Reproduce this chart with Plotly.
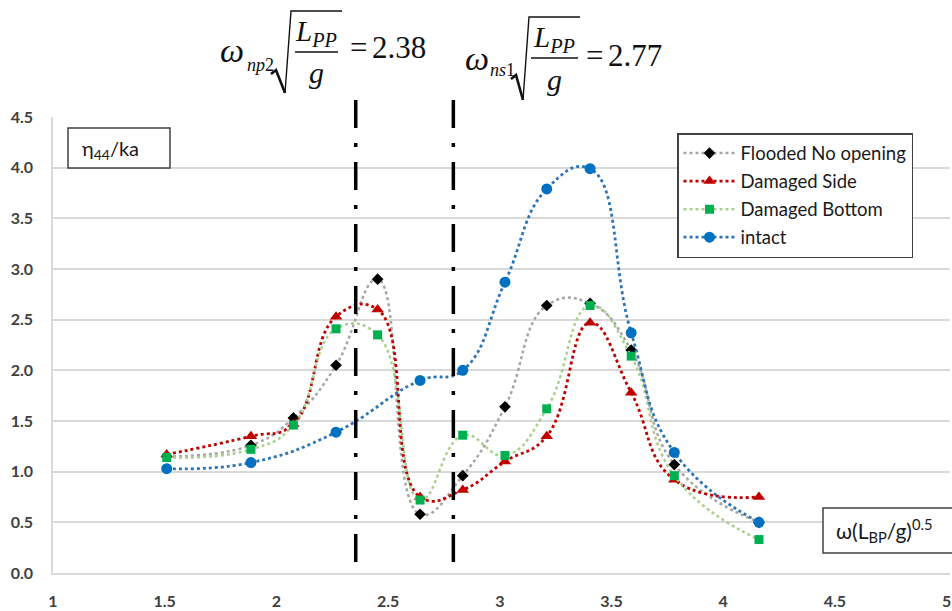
import plotly.graph_objects as go

# ---------------- data ----------------
x_common = [1.509, 1.886, 2.076, 2.267, 2.453, 2.643, 2.834, 3.023, 3.210, 3.404, 3.588, 3.781, 4.160]
flooded = [1.15, 1.26, 1.53, 2.05, 2.90, 0.58, 0.96, 1.64, 2.64, 2.66, 2.20, 1.07, 0.50]
damaged_side = [1.17, 1.35, 1.47, 2.53, 2.60, 0.75, 0.82, 1.10, 1.35, 2.47, 1.78, 0.92, 0.75]
damaged_bottom = [1.14, 1.22, 1.46, 2.41, 2.35, 0.72, 1.36, 1.16, 1.62, 2.64, 2.14, 0.96, 0.33]
x_intact = [1.509, 1.886, 2.267, 2.643, 2.834, 3.023, 3.210, 3.404, 3.588, 3.781, 4.160]
intact = [1.03, 1.09, 1.39, 1.90, 2.00, 2.87, 3.79, 3.99, 2.37, 1.19, 0.50]
series_names = ["Flooded No opening", "Damaged Side", "Damaged Bottom", "intact"]
vlines_x = [2.355, 2.792]
eq_values = ["2.38", "2.77"]
x_ticks = [1, 1.5, 2, 2.5, 3, 3.5, 4, 4.5, 5]
y_ticks = [0, 0.5, 1, 1.5, 2, 2.5, 3, 3.5, 4, 4.5]

# ---------------- layout geometry (pixels) ----------------
W_FIG, H_FIG = 952, 611
L, T, W, H = 53, 117, 897, 456


def px(x):
    return (x - L) / W


def py(y):
    return (T + H - y) / H


fig = go.Figure()

SM = 1.3
styles = [
    dict(line=dict(color="#a6a6a6", width=2.5, dash="dot", shape="spline", smoothing=SM),
         marker=dict(symbol="diamond", size=9, color="#000000")),
    dict(line=dict(color="#c00000", width=2.8, dash="dot", shape="spline", smoothing=SM),
         marker=dict(symbol="triangle-up", size=11, color="#c00000")),
    dict(line=dict(color="#a9d18e", width=2.5, dash="dot", shape="spline", smoothing=SM),
         marker=dict(symbol="square", size=9, color="#00b050")),
    dict(line=dict(color="#2e75b6", width=2.8, dash="dot", shape="spline", smoothing=SM),
         marker=dict(symbol="circle", size=11, color="#0070c0")),
]
data_sets = [(x_common, flooded), (x_common, damaged_side), (x_common, damaged_bottom), (x_intact, intact)]

for name, (xs, ys), st in zip(series_names, data_sets, styles):
    fig.add_trace(go.Scatter(x=xs, y=ys, mode="lines+markers", name=name,
                             legendgroup=name, line=st["line"], marker=st["marker"]))

shapes = []
# vertical dash-dot lines
for xv, ybot in zip(vlines_x, [570, 577]):
    shapes.append(dict(type="line", xref="x", yref="paper", x0=xv, x1=xv,
                       y0=py(100), y1=py(ybot),
                       line=dict(color="#000000", width=3.5, dash="28px,15px,4px,15px")))

# text boxes
shapes.append(dict(type="rect", xref="paper", yref="paper", x0=px(68), x1=px(170), y0=py(168), y1=py(128),
                   line=dict(color="#404040", width=1.5), fillcolor="white", layer="above"))
shapes.append(dict(type="rect", xref="paper", yref="paper", x0=px(823), x1=px(990), y0=py(553), y1=py(508),
                   line=dict(color="#404040", width=1.5), fillcolor="white", layer="above"))

annotations = [
    dict(xref="paper", yref="paper", x=px(80), y=py(149), xanchor="left", yanchor="middle",
         text="η<sub>44</sub>/ka", showarrow=False,
         font=dict(family="Lato", size=20, color="#1a1a1a")),
    dict(xref="paper", yref="paper", x=px(834), y=py(530), xanchor="left", yanchor="middle",
         text="ω(L<sub>BP</sub>/g)<sup>0.5</sup>", showarrow=False,
         font=dict(family="Lato", size=21, color="#1a1a1a")),
]

SERIF = "Liberation Serif"


def equation(wx, wy, sub, subx, suby, rad, lx, ly, barx0, barx1, bary, gy, eqx, valx, eqy, value):
    ann = [
        dict(x=px(wx), y=py(wy), text="<i>ω</i>", xanchor="center", yanchor="middle",
             font=dict(family=SERIF, size=34, color="#111")),
        dict(x=px(subx), y=py(suby), text=sub, xanchor="left", yanchor="middle",
             font=dict(family=SERIF, size=18, color="#111")),
        dict(x=px(lx), y=py(ly), text="<i>L</i><sub><i>PP</i></sub>", xanchor="center", yanchor="middle",
             font=dict(family=SERIF, size=29, color="#111")),
        dict(x=px(lx), y=py(gy), text="<i>g</i>", xanchor="center", yanchor="middle",
             font=dict(family=SERIF, size=30, color="#111")),
        dict(x=px(eqx), y=py(eqy), text="=", xanchor="left", yanchor="middle",
             font=dict(family=SERIF, size=31, color="#111")),
        dict(x=px(valx), y=py(eqy), text=value, xanchor="left", yanchor="middle",
             font=dict(family=SERIF, size=31, color="#111")),
    ]
    for a in ann:
        a.update(xref="paper", yref="paper", showarrow=False)
    (ax, ay), (bx, by), (cx, cy), (dx, dy), (ex, ey) = rad
    shp = [
        dict(type="path", xref="paper", yref="paper",
             path=f"M{px(ax)},{py(ay)} L{px(bx)},{py(by)} L{px(cx)},{py(cy)}",
             line=dict(color="#111", width=2.6)),
        dict(type="path", xref="paper", yref="paper",
             path=f"M{px(cx)},{py(cy)} L{px(dx)},{py(dy)} L{px(ex)},{py(ey)}",
             line=dict(color="#111", width=1.4)),
        dict(type="line", xref="paper", yref="paper", x0=px(barx0), x1=px(barx1), y0=py(bary), y1=py(bary),
             line=dict(color="#111", width=1.4)),
    ]
    return ann, shp


a1, s1 = equation(232, 50, "<i>np</i>2", 245, 65,
                  [(271, 74), (276, 70), (285, 93), (291, 11), (342, 11)],
                  316, 33, 295, 338, 52, 72, 348, 370, 48, eq_values[0])
a2, s2 = equation(477, 59, "<i>ns</i>1", 488, 70,
                  [(511, 79), (516, 75), (523, 100), (529, 17), (580, 17)],
                  554, 39, 531, 578, 58, 80, 584, 606, 56, eq_values[1])
annotations += a1 + a2
shapes += s1 + s2

fig.update_layout(
    width=W_FIG, height=H_FIG,
    margin=dict(l=L, r=W_FIG - L - W, t=T, b=H_FIG - T - H, pad=0),
    paper_bgcolor="white", plot_bgcolor="white",
    showlegend=True,
    legend=dict(x=px(677), y=py(133), xanchor="left", yanchor="top",
                bgcolor="white", bordercolor="#404040", borderwidth=1.5,
                font=dict(family="Lato", size=18.5, color="#1a1a1a"),
                tracegroupgap=1, itemwidth=52),
    shapes=shapes, annotations=annotations,
    xaxis=dict(range=[1, 5.015], tickvals=x_ticks, ticktext=[f"{v:g}" for v in x_ticks],
               showgrid=False, zeroline=False, showline=True, linecolor="#d9d9d9", linewidth=1.5,
               ticks="", ticklabelstandoff=13,
               tickfont=dict(family="Lato", size=16, color="#404040", weight="bold")),
    yaxis=dict(range=[0, 4.5], tickvals=y_ticks, ticktext=[f"{v:.1f}" for v in y_ticks],
               showgrid=True, gridcolor="#d9d9d9", gridwidth=1.5, zeroline=False,
               showline=True, linecolor="#d9d9d9", linewidth=1.5,
               ticks="", ticklabelstandoff=15,
               tickfont=dict(family="Lato", size=16, color="#404040", weight="bold")),
)

fig.write_html("out.html", config={"displayModeBar": False},
               post_script="document.body.style.margin='0';document.body.style.overflow='hidden';")
